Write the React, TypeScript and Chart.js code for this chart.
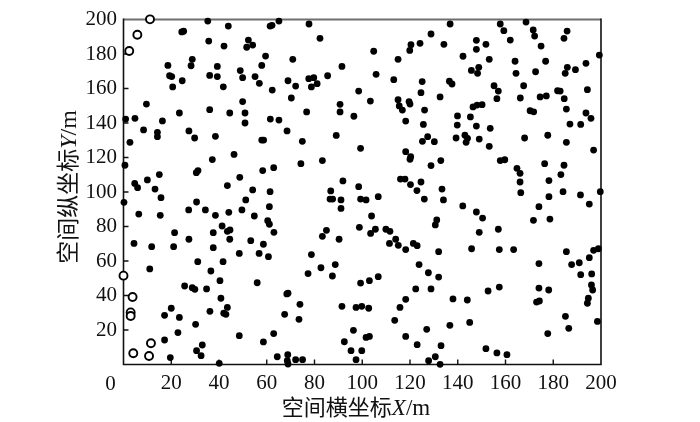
import React, { useEffect, useRef } from 'react';
import { Chart, registerables } from 'chart.js';

Chart.register(...registerables);

// Axis ticks
const xTickValues = [0, 20, 40, 60, 80, 100, 120, 140, 160, 180, 200];
const yTickValues = [0, 20, 40, 60, 80, 100, 120, 140, 160, 180, 200];

// Axis titles: [CJK part, italic symbol, unit]
const xTitleParts = ['空间横坐标', 'X', '/m'];
const yTitleParts = ['空间纵坐标', 'Y', '/m'];

// Filled points (x, y in metres)
const solidX = [
  35.3, 43.9, 24.4, 25.2, 35.7, 42.1, 52.3, 51.6, 54.1, 59.5, 18.6, 28.8, 28.3, 19.3, 20.2, 20.6, 24.6, 36.1, 39.3, 39.3,
  41.8, 48.9, 49.9, 55.1, 57.9, 56.9, 9.6, 23.4, 36.1, 44.5, 49.9, 50.9, 50.9, 0.9, 4.8, 16.3, 8.4, 14.2, 14.2, 27.4,
  29.8, 38.5, 2.7, 57.9, 58.7, 0.6, 37.2, 46.3, 15.0, 30.5, 31.2, 58.3, 4.7, 5.9, 10.0, 13.2, 43.5, 48.7, 54.1,
  61.4, 62.2, 65.1, 77.7, 82.3, 128.8, 124.2, 120.4, 119.9, 70.9, 104.8, 115.0, 91.5, 68.9, 72.1, 77.6, 79.7, 81.1, 78.7, 85.5,
  105.8, 113.2, 125.1, 62.3, 70.3, 98.5, 124.6, 103.4, 115.0, 119.6, 120.0, 115.5, 116.8, 126.1, 90.7, 90.7, 76.7, 96.5, 61.5, 65.1,
  118.2, 125.6, 68.5, 89.1, 74.9, 127.4, 125.2, 99.3, 118.2, 120.3, 120.0, 62.9, 74.3, 83.3, 128.8, 91.9, 86.8, 98.5, 116.0, 117.9,
  120.2, 124.6, 122.9, 61.4,
  136.8, 134.2, 157.8, 159.3, 168.6, 171.6, 172.2, 162.0, 147.8, 151.8, 147.8, 142.2, 174.9, 185.8, 184.5, 153.2, 164.0, 176.8, 199.3, 193.7,
  185.9, 189.3, 185.0, 145.7, 148.8, 148.3, 164.4, 172.6, 136.5, 137.6, 155.2, 157.0, 167.6, 181.8, 182.9, 194.3, 132.6, 156.4, 166.2, 174.5,
  177.1, 184.6, 146.4, 148.1, 150.2, 170.3, 171.8, 185.5, 193.7, 195.8, 139.9, 145.3, 139.8, 147.8, 153.6, 187.0, 191.5, 130.2, 139.3, 143.0,
  144.1, 143.5, 149.0, 153.2, 168.0, 177.7, 185.5, 196.9, 157.8, 159.7, 132.9, 164.8, 166.1, 176.4, 184.5, 166.1, 178.2, 183.2, 133.4,
  0.2, 15.7, 6.4, 15.4, 27.3, 30.6, 34.3, 38.5, 44.1, 51.2, 49.6, 54.8, 21.4, 27.4, 37.6, 41.3, 43.5, 44.6, 44.5, 4.4,
  11.8, 21.0, 37.6, 53.3, 58.6, 48.5, 56.8, 31.1, 41.7, 11.0, 36.6, 40.4, 56.0, 25.6, 28.8, 29.9, 34.8, 40.8, 20.0, 17.2,
  23.4, 36.2, 42.0, 42.9, 43.5, 30.2, 22.8, 48.5, 58.6, 17.2, 33.0, 30.6, 32.5, 19.6, 40.1,
  86.5, 87.6, 91.1, 91.1, 99.3, 101.6, 106.7, 126.0, 61.1, 103.9, 60.4, 61.1, 63.0, 83.3, 85.0, 90.3, 98.8, 103.5, 105.5, 109.9,
  111.6, 111.4, 114.0, 115.1, 118.2, 121.4, 123.0, 60.7, 78.7, 82.7, 77.3, 87.5, 88.7, 123.8, 127.7, 99.3, 103.0, 106.7, 122.4, 128.8,
  68.4, 68.9, 73.9, 91.5, 97.4, 99.8, 102.7, 115.8, 118.2, 67.5, 73.5, 113.6, 62.9, 96.3, 101.6, 103.0, 92.5, 118.2, 127.0, 123.0,
  64.4, 95.3, 99.8, 97.4, 68.8, 68.6, 68.9, 72.1, 75.0, 127.8,
  134.0, 166.4, 178.2, 184.1, 191.4, 199.7, 195.1, 174.0, 178.6, 171.7, 142.1, 147.8, 150.4, 149.0, 157.0, 131.2, 130.6, 132.0, 145.8, 157.4,
  163.4, 185.5, 196.9, 198.9, 195.1, 190.9, 187.7, 174.0, 132.0, 191.5, 196.1, 157.4, 152.7, 174.0, 178.1, 196.0, 196.5, 138.0, 144.0, 173.0,
  174.2, 194.7, 194.3, 185.1, 186.5, 177.7, 198.5, 136.7, 145.0, 133.0, 151.8, 156.4, 160.6, 130.6, 132.6,
];
const solidY = [
  199.1, 196.2, 192.8, 193.2, 187.5, 184.6, 188.1, 183.9, 185.2, 178.8, 173.4, 176.9, 173.2, 167.4, 166.9, 160.9, 164.5, 167.6, 172.8, 166.9,
  161.0, 170.4, 166.3, 166.9, 173.4, 163.0, 151.0, 145.8, 147.7, 145.8, 152.4, 145.8, 140.0, 142.3, 142.7, 141.2, 136.0, 134.6, 132.1, 135.4,
  131.3, 132.3, 128.8, 130.1, 130.1, 115.5, 118.8, 121.8, 110.1, 111.2, 112.4, 112.4, 105.0, 102.5, 107.0, 101.7, 103.7, 108.5, 101.2,
  196.2, 196.6, 199.1, 197.4, 189.1, 191.6, 186.2, 185.4, 182.1, 176.9, 181.6, 176.9, 172.8, 164.5, 161.4, 165.7, 166.3, 162.8, 160.9, 167.4,
  168.2, 165.1, 164.0, 159.1, 154.5, 158.5, 157.6, 152.7, 153.5, 152.4, 151.0, 149.9, 147.5, 147.5, 150.8, 146.4, 146.4, 143.9, 142.3, 141.7,
  141.1, 139.2, 135.4, 132.8, 129.4, 132.1, 129.4, 125.3, 123.4, 120.5, 119.0, 114.1, 116.4, 118.2, 115.3, 106.4, 100.6, 103.1, 107.5, 107.5,
  104.3, 105.8, 100.8, 100.2,
  197.4, 185.6, 197.4, 193.5, 198.5, 193.9, 190.4, 188.1, 187.9, 185.6, 182.7, 178.7, 184.6, 193.3, 189.1, 176.9, 175.8, 175.8, 179.4, 174.6,
  172.3, 170.9, 168.8, 170.5, 172.3, 168.8, 168.8, 169.7, 164.2, 162.6, 161.6, 158.5, 161.6, 158.7, 158.5, 159.3, 155.1, 154.1, 154.5, 155.1,
  155.7, 154.1, 149.3, 150.4, 150.6, 147.1, 146.5, 148.1, 145.8, 142.7, 144.1, 143.5, 138.8, 138.2, 136.9, 139.4, 139.2, 129.2, 131.3, 132.9,
  131.1, 128.8, 130.7, 126.5, 131.3, 132.9, 128.8, 124.3, 118.2, 118.7, 118.2, 113.7, 110.8, 116.4, 115.5, 105.8, 106.6, 110.1, 101.7,
  94.0, 96.7, 87.2, 86.5, 89.6, 94.2, 89.6, 86.5, 88.2, 95.4, 89.6, 86.1, 76.4, 72.6, 76.4, 80.3, 77.2, 78.0, 72.6, 70.2,
  68.3, 68.3, 67.7, 71.8, 69.7, 64.4, 64.4, 59.6, 59.6, 55.4, 54.2, 48.6, 47.4, 45.5, 44.5, 43.6, 43.8, 38.4, 32.6, 28.5,
  27.3, 30.8, 29.7, 29.1, 33.1, 23.3, 18.5, 16.7, 13.1, 14.2, 11.3, 8.0, 5.1, 4.0, 0.7,
  95.9, 95.9, 95.4, 90.5, 95.9, 95.4, 97.3, 95.9, 91.5, 86.1, 83.4, 81.3, 76.6, 74.3, 77.8, 72.6, 79.5, 76.0, 78.4, 78.4,
  77.2, 70.2, 72.6, 69.1, 66.6, 70.2, 68.9, 62.5, 63.7, 56.1, 52.7, 51.3, 57.9, 57.9, 53.2, 47.2, 48.6, 50.9, 43.8, 43.8,
  40.9, 41.3, 34.9, 33.7, 33.1, 33.7, 32.6, 33.1, 37.8, 29.1, 26.2, 25.6, 17.9, 19.8, 15.7, 16.3, 13.2, 16.3, 20.4, 11.5,
  4.5, 8.0, 8.0, 2.8, 5.7, 2.2, 0.3, 2.8, 2.8, 2.2,
  95.4, 99.6, 97.3, 100.2, 98.3, 100.2, 93.0, 91.5, 84.3, 83.6, 91.9, 88.4, 84.9, 76.6, 78.4, 83.8, 80.9, 65.4, 67.1, 66.6,
  66.6, 65.4, 66.2, 67.1, 61.9, 59.0, 57.9, 58.5, 50.7, 52.1, 52.5, 44.9, 42.6, 44.3, 43.2, 46.1, 43.2, 38.0, 37.4, 36.2,
  36.8, 38.4, 35.5, 27.9, 21.0, 17.9, 25.0, 22.7, 24.4, 10.9, 9.2, 6.7, 5.7, 4.5, 0.1,
];

// Hollow points (x, y in metres)
const hollowX = [11.1, 5.8, 2.4, 0.0, 3.8, 3.0, 3.0, 4.1, 11.5, 10.7];
const hollowY = [200.1, 191.2, 181.7, 51.5, 39.1, 30.2, 28.1, 6.5, 12.3, 4.9];

const SERIF = "'Liberation Serif', 'Times New Roman', serif";
const CJK = "'Noto Sans CJK SC', sans-serif";

function drawMixedTitle(ctx: CanvasRenderingContext2D, parts: string[], size: number) {
  const fonts = [`${size - 1}px ${CJK}`, `italic ${size}px ${SERIF}`, `${size}px ${SERIF}`];
  const widths = parts.map((t, i) => {
    ctx.font = fonts[i];
    return ctx.measureText(t).width;
  });
  const total = widths.reduce((a, b) => a + b, 0);
  let x = -total / 2;
  ctx.textAlign = 'left';
  ctx.textBaseline = 'alphabetic';
  parts.forEach((t, i) => {
    ctx.font = fonts[i];
    ctx.fillText(t, x, 0);
    x += widths[i];
  });
}

const framePlugin = {
  id: 'frameAndTitles',
  beforeDatasetsDraw(chart: any) {
    const { ctx, chartArea, scales } = chart;
    const { left, right, top, bottom } = chartArea;
    ctx.save();
    ctx.lineCap = 'butt';
    ctx.strokeStyle = '#6f6f6f';
    ctx.lineWidth = 2;
    ctx.beginPath();
    ctx.moveTo(left, top);
    ctx.lineTo(right, top);
    ctx.stroke();
    ctx.strokeStyle = '#111';
    ctx.lineWidth = 1.6;
    ctx.beginPath();
    ctx.moveTo(left, top - 1);
    ctx.lineTo(left, bottom);
    ctx.lineTo(right, bottom);
    ctx.lineTo(right, top - 1);
    ctx.stroke();
    const tl = 5;
    ctx.lineWidth = 1.4;
    ctx.beginPath();
    scales.x.ticks.forEach((t: any) => {
      const px = scales.x.getPixelForValue(t.value);
      if (px > left + 1 && px < right - 1) {
        ctx.moveTo(px, bottom);
        ctx.lineTo(px, bottom - tl);
      }
    });
    scales.y.ticks.forEach((t: any) => {
      const py = scales.y.getPixelForValue(t.value);
      if (py > top + 1 && py < bottom - 1) {
        ctx.moveTo(left, py);
        ctx.lineTo(left + tl, py);
      }
    });
    ctx.stroke();
    ctx.restore();
  },
  afterDraw(chart: any) {
    const { ctx, chartArea, scales } = chart;
    ctx.save();
    ctx.fillStyle = '#111';
    // origin label "0" sits left of the corner
    ctx.font = `21px ${SERIF}`;
    ctx.textAlign = 'center';
    ctx.textBaseline = 'alphabetic';
    ctx.fillText(String(xTickValues[0]), scales.x.getPixelForValue(xTickValues[0]) - 13, chartArea.bottom + 25.5);
    // x title
    ctx.save();
    ctx.translate(356, 414.5);
    drawMixedTitle(ctx, xTitleParts, 23);
    ctx.restore();
    // y title
    ctx.save();
    ctx.translate(76, 187);
    ctx.rotate(-Math.PI / 2);
    drawMixedTitle(ctx, yTitleParts, 24);
    ctx.restore();
    ctx.restore();
  },
};

export default function App() {
  const canvasRef = useRef<HTMLCanvasElement | null>(null);

  useEffect(() => {
    const canvas = canvasRef.current;
    if (!canvas) return;
    const chart = new Chart(canvas, {
      type: 'scatter',
      data: {
        datasets: [
          {
            label: 'solid',
            data: solidX.map((x, i) => ({ x, y: solidY[i] })),
            pointRadius: 3.4,
            pointBackgroundColor: '#000',
            pointBorderColor: '#000',
            pointBorderWidth: 0,
            clip: false,
          } as any,
          {
            label: 'hollow',
            data: hollowX.map((x, i) => ({ x, y: hollowY[i] })),
            pointRadius: 4,
            pointBackgroundColor: '#fff',
            pointBorderColor: '#000',
            pointBorderWidth: 1.9,
            clip: false,
          } as any,
        ],
      },
      options: {
        animation: false,
        responsive: false,
        events: [],
        layout: { padding: { left: 0, right: 99, top: 19.5, bottom: 0 } },
        plugins: { legend: { display: false }, tooltip: { enabled: false } },
        scales: {
          x: {
            type: 'linear',
            min: 0,
            max: 200,
            afterBuildTicks: (scale: any) => {
              scale.ticks = xTickValues.map((v) => ({ value: v }));
            },
            afterFit: (scale: any) => {
              scale.height = 57.5;
            },
            grid: { display: false, drawTicks: false },
            border: { display: false },
            ticks: {
              padding: 6.5,
              color: '#111',
              font: { family: SERIF, size: 21 },
              maxRotation: 0,
              callback: (v: any) => (v === 0 ? '' : String(v)),
            },
          },
          y: {
            type: 'linear',
            min: 0,
            max: 200,
            afterBuildTicks: (scale: any) => {
              scale.ticks = yTickValues.map((v) => ({ value: v }));
            },
            afterFit: (scale: any) => {
              scale.width = 123.5;
            },
            grid: { display: false, drawTicks: false },
            border: { display: false },
            ticks: {
              padding: 6.5,
              color: '#111',
              font: { family: SERIF, size: 21 },
              callback: (v: any) => (v === 0 ? '' : String(v)),
            },
          },
        },
      },
      plugins: [framePlugin],
    });
    return () => chart.destroy();
  }, []);

  return (
    <div style={{ position: 'absolute', left: 0, top: 0, width: 700, height: 422, background: '#fff' }}>
      <canvas ref={canvasRef} width={700} height={422} style={{ display: 'block', width: 700, height: 422 }} />
    </div>
  );
}
